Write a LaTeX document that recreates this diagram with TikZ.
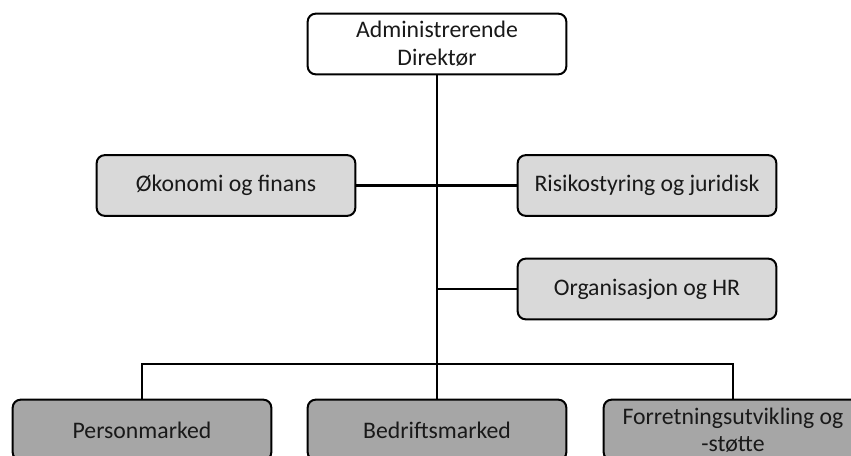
\documentclass[tikz,border=0pt]{standalone}
\usepackage{fontspec}
\setmainfont{Carlito}
\begin{document}
\begin{tikzpicture}[x=0.75pt,y=-0.75pt,
  box/.style={draw=black, line width=1.5pt, rounded corners=6pt, minimum width=194pt, minimum height=45.5pt, inner sep=1pt, align=center, font=\fontsize{17.8}{21}\selectfont, text=black!90},
  topbox/.style={box, fill=white},
  midbox/.style={box, fill=black!15},
  lowbox/.style={box, fill=black!35},
  conn/.style={draw=black, line width=1.9pt}]
\useasboundingbox (0,0) rectangle (851,456);
\clip (0,0) rectangle (851,456);
\node[topbox] (dir) at (437,44) {Administrerende\\Direktør};
\node[midbox] (eco) at (226,185.5) {Økonomi og finans};
\node[midbox] (risk) at (647,185.5) {Risikostyring og juridisk};
\node[midbox] (org) at (647,289) {Organisasjon og HR};
\node[lowbox] (pm) at (142,430) {Personmarked};
\node[lowbox] (bm) at (437,430) {Bedriftsmarked};
\node[lowbox] (fs) at (733,430) {Forretningsutvikling og\\[-1pt]-støtte};
\coordinate (bus) at (437,364);
\coordinate (orgj) at (437,289);
\draw[conn] (dir.south) -- (bm.north);
\draw[conn] (eco.east) -- (risk.west);
\draw[conn] (org.west) -- (orgj);
\draw[conn] (pm.north) |- (bus) -| (fs.north);
\end{tikzpicture}
\end{document}
